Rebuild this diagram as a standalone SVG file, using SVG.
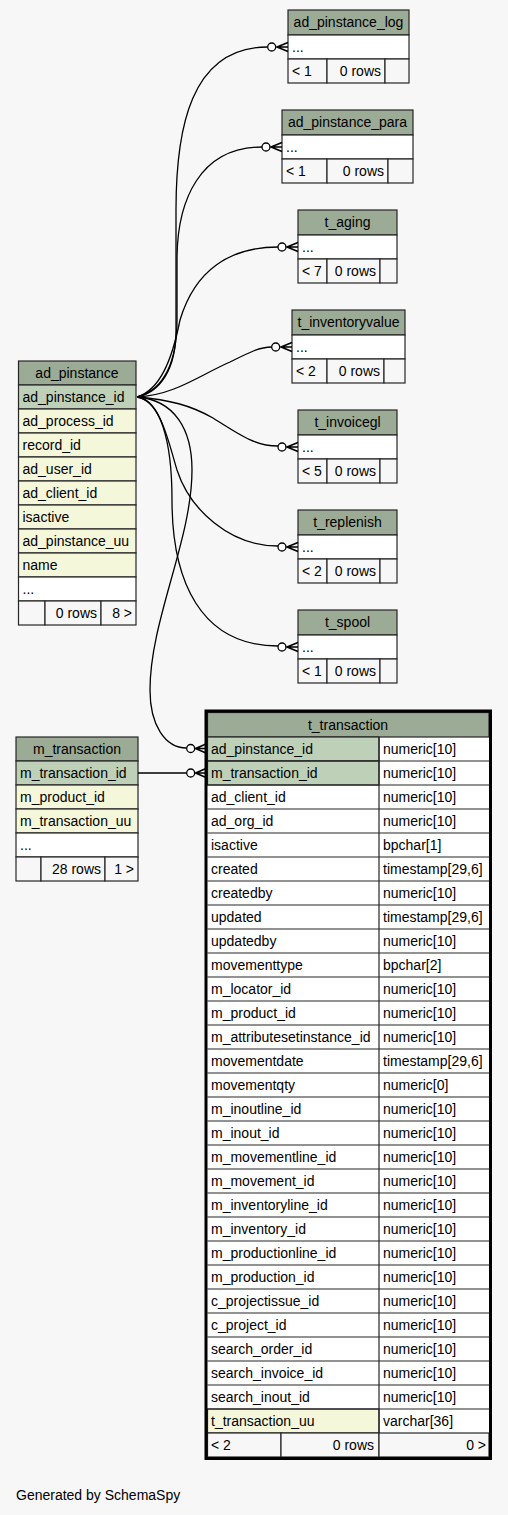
<svg xmlns="http://www.w3.org/2000/svg" width="508" height="1515" viewBox="0 0 508 1515">
<style>
text{font-family:"Liberation Sans",Arial,Helvetica,sans-serif;font-size:14px;fill:#000}
.c{text-anchor:middle}.r{text-anchor:end}
rect{stroke:#262626;stroke-width:1.2}
.h{fill:#9bab96}.k{fill:#bed1b8}.y{fill:#f4f7da}.w{fill:#fff}.f{fill:#f7f7f7}
.ln{stroke:#262626;stroke-width:1.2;fill:none}
.e{stroke:#000;stroke-width:1.3;fill:none}
.o{fill:#fff;stroke:#000;stroke-width:1.3}
.cr{stroke:#000;stroke-width:1.6;fill:none}
.thick{fill:none;stroke:#000;stroke-width:3}
.nos{stroke:none}
</style>
<rect class="nos" x="0" y="0" width="508" height="1515" fill="#f7f7f7"/>

<g id="ad_pinstance_log">
<rect class="h" x="288" y="10" width="121" height="25"/>
<rect class="w" x="288" y="35" width="121" height="24"/>
<rect class="f" x="288" y="59" width="39" height="24"/>
<rect class="f" x="327" y="59" width="58" height="24"/>
<rect class="f" x="385" y="59" width="24" height="24"/>
<text class="c" x="348.5" y="27">ad_pinstance_log</text>
<text x="292" y="52">...</text>
<text x="292" y="76">&lt; 1</text>
<text class="r" x="381" y="76">0 rows</text>
</g>

<g id="ad_pinstance_para">
<rect class="h" x="282" y="110" width="131" height="25"/>
<rect class="w" x="282" y="135" width="131" height="24"/>
<rect class="f" x="282" y="159" width="45" height="24"/>
<rect class="f" x="327" y="159" width="61" height="24"/>
<rect class="f" x="388" y="159" width="25" height="24"/>
<text class="c" x="347.5" y="127">ad_pinstance_para</text>
<text x="286" y="152">...</text>
<text x="286" y="176">&lt; 1</text>
<text class="r" x="384" y="176">0 rows</text>
</g>

<g id="t_aging">
<rect class="h" x="298" y="210" width="99" height="25"/>
<rect class="w" x="298" y="235" width="99" height="24"/>
<rect class="f" x="298" y="259" width="29" height="24"/>
<rect class="f" x="327" y="259" width="53" height="24"/>
<rect class="f" x="380" y="259" width="17" height="24"/>
<text class="c" x="347.5" y="227">t_aging</text>
<text x="302" y="252">...</text>
<text x="302" y="276">&lt; 7</text>
<text class="r" x="376" y="276">0 rows</text>
</g>

<g id="t_inventoryvalue">
<rect class="h" x="292" y="310" width="113" height="25"/>
<rect class="w" x="292" y="335" width="113" height="24"/>
<rect class="f" x="292" y="359" width="35" height="24"/>
<rect class="f" x="327" y="359" width="57" height="24"/>
<rect class="f" x="384" y="359" width="21" height="24"/>
<text class="c" x="348.5" y="327">t_inventoryvalue</text>
<text x="296" y="352">...</text>
<text x="296" y="376">&lt; 2</text>
<text class="r" x="380" y="376">0 rows</text>
</g>

<g id="t_invoicegl">
<rect class="h" x="298" y="410" width="99" height="25"/>
<rect class="w" x="298" y="435" width="99" height="24"/>
<rect class="f" x="298" y="459" width="29" height="24"/>
<rect class="f" x="327" y="459" width="53" height="24"/>
<rect class="f" x="380" y="459" width="17" height="24"/>
<text class="c" x="347.5" y="427">t_invoicegl</text>
<text x="302" y="452">...</text>
<text x="302" y="476">&lt; 5</text>
<text class="r" x="376" y="476">0 rows</text>
</g>

<g id="t_replenish">
<rect class="h" x="298" y="510" width="99" height="25"/>
<rect class="w" x="298" y="535" width="99" height="24"/>
<rect class="f" x="298" y="559" width="29" height="24"/>
<rect class="f" x="327" y="559" width="53" height="24"/>
<rect class="f" x="380" y="559" width="17" height="24"/>
<text class="c" x="347.5" y="527">t_replenish</text>
<text x="302" y="552">...</text>
<text x="302" y="576">&lt; 2</text>
<text class="r" x="376" y="576">0 rows</text>
</g>

<g id="t_spool">
<rect class="h" x="298" y="610" width="99" height="25"/>
<rect class="w" x="298" y="635" width="99" height="24"/>
<rect class="f" x="298" y="659" width="29" height="24"/>
<rect class="f" x="327" y="659" width="53" height="24"/>
<rect class="f" x="380" y="659" width="17" height="24"/>
<text class="c" x="347.5" y="627">t_spool</text>
<text x="302" y="652">...</text>
<text x="302" y="676">&lt; 1</text>
<text class="r" x="376" y="676">0 rows</text>
</g>

<g id="ad_pinstance">
<rect class="h" x="18.5" y="361" width="117.5" height="24"/>
<rect class="k" x="18.5" y="385" width="117.5" height="24"/>
<rect class="y" x="18.5" y="409" width="117.5" height="24"/>
<rect class="y" x="18.5" y="433" width="117.5" height="24"/>
<rect class="y" x="18.5" y="457" width="117.5" height="24"/>
<rect class="y" x="18.5" y="481" width="117.5" height="24"/>
<rect class="y" x="18.5" y="505" width="117.5" height="24"/>
<rect class="y" x="18.5" y="529" width="117.5" height="24"/>
<rect class="y" x="18.5" y="553" width="117.5" height="24"/>
<rect class="w" x="18.5" y="577" width="117.5" height="24"/>
<rect class="f" x="18.5" y="601" width="26.5" height="24"/>
<rect class="f" x="45" y="601" width="56" height="24"/>
<rect class="f" x="101" y="601" width="35" height="24"/>
<text class="c" x="77" y="378">ad_pinstance</text>
<text x="22.5" y="402">ad_pinstance_id</text>
<text x="22.5" y="426">ad_process_id</text>
<text x="22.5" y="450">record_id</text>
<text x="22.5" y="474">ad_user_id</text>
<text x="22.5" y="498">ad_client_id</text>
<text x="22.5" y="522">isactive</text>
<text x="22.5" y="546">ad_pinstance_uu</text>
<text x="22.5" y="570">name</text>
<text x="22.5" y="594">...</text>
<text class="r" x="97" y="618">0 rows</text>
<text class="r" x="132" y="618">8 &gt;</text>
</g>

<g id="m_transaction">
<rect class="h" x="16" y="737" width="122" height="24"/>
<rect class="k" x="16" y="761" width="122" height="24"/>
<rect class="y" x="16" y="785" width="122" height="24"/>
<rect class="y" x="16" y="809" width="122" height="24"/>
<rect class="w" x="16" y="833" width="122" height="24"/>
<rect class="f" x="16" y="857" width="25" height="24"/>
<rect class="f" x="41" y="857" width="64" height="24"/>
<rect class="f" x="105" y="857" width="33" height="24"/>
<text class="c" x="77" y="754">m_transaction</text>
<text x="20" y="778">m_transaction_id</text>
<text x="20" y="802">m_product_id</text>
<text x="20" y="826">m_transaction_uu</text>
<text x="20" y="850">...</text>
<text class="r" x="101" y="874">28 rows</text>
<text class="r" x="134" y="874">1 &gt;</text>
</g>

<g id="t_transaction">
<rect class="w nos" x="207.5" y="737" width="281.5" height="696"/>
<rect class="h" x="207.5" y="712.5" width="281.5" height="24.5"/>
<rect class="k" x="207.5" y="737" width="171.5" height="24"/>
<rect class="k" x="207.5" y="761" width="171.5" height="24"/>
<rect class="y" x="207.5" y="1409" width="171.5" height="24"/>
<rect class="f" x="207.5" y="1433" width="73.5" height="24"/>
<rect class="f" x="281" y="1433" width="98" height="24"/>
<rect class="f" x="379" y="1433" width="110" height="24"/>
<path class="ln" d="M207.5,761H489M207.5,785H489M207.5,809H489M207.5,833H489M207.5,857H489M207.5,881H489M207.5,905H489M207.5,929H489M207.5,953H489M207.5,977H489M207.5,1001H489M207.5,1025H489M207.5,1049H489M207.5,1073H489M207.5,1097H489M207.5,1121H489M207.5,1145H489M207.5,1169H489M207.5,1193H489M207.5,1217H489M207.5,1241H489M207.5,1265H489M207.5,1289H489M207.5,1313H489M207.5,1337H489M207.5,1361H489M207.5,1385H489M207.5,1409H489M379,737V1433"/>
<rect class="thick" x="206" y="711" width="284.5" height="747.5"/>
<text class="c" x="348" y="730">t_transaction</text>
<text x="211" y="754">ad_pinstance_id</text><text x="383" y="754">numeric[10]</text>
<text x="211" y="778">m_transaction_id</text><text x="383" y="778">numeric[10]</text>
<text x="211" y="802">ad_client_id</text><text x="383" y="802">numeric[10]</text>
<text x="211" y="826">ad_org_id</text><text x="383" y="826">numeric[10]</text>
<text x="211" y="850">isactive</text><text x="383" y="850">bpchar[1]</text>
<text x="211" y="874">created</text><text x="383" y="874">timestamp[29,6]</text>
<text x="211" y="898">createdby</text><text x="383" y="898">numeric[10]</text>
<text x="211" y="922">updated</text><text x="383" y="922">timestamp[29,6]</text>
<text x="211" y="946">updatedby</text><text x="383" y="946">numeric[10]</text>
<text x="211" y="970">movementtype</text><text x="383" y="970">bpchar[2]</text>
<text x="211" y="994">m_locator_id</text><text x="383" y="994">numeric[10]</text>
<text x="211" y="1018">m_product_id</text><text x="383" y="1018">numeric[10]</text>
<text x="211" y="1042">m_attributesetinstance_id</text><text x="383" y="1042">numeric[10]</text>
<text x="211" y="1066">movementdate</text><text x="383" y="1066">timestamp[29,6]</text>
<text x="211" y="1090">movementqty</text><text x="383" y="1090">numeric[0]</text>
<text x="211" y="1114">m_inoutline_id</text><text x="383" y="1114">numeric[10]</text>
<text x="211" y="1138">m_inout_id</text><text x="383" y="1138">numeric[10]</text>
<text x="211" y="1162">m_movementline_id</text><text x="383" y="1162">numeric[10]</text>
<text x="211" y="1186">m_movement_id</text><text x="383" y="1186">numeric[10]</text>
<text x="211" y="1210">m_inventoryline_id</text><text x="383" y="1210">numeric[10]</text>
<text x="211" y="1234">m_inventory_id</text><text x="383" y="1234">numeric[10]</text>
<text x="211" y="1258">m_productionline_id</text><text x="383" y="1258">numeric[10]</text>
<text x="211" y="1282">m_production_id</text><text x="383" y="1282">numeric[10]</text>
<text x="211" y="1306">c_projectissue_id</text><text x="383" y="1306">numeric[10]</text>
<text x="211" y="1330">c_project_id</text><text x="383" y="1330">numeric[10]</text>
<text x="211" y="1354">search_order_id</text><text x="383" y="1354">numeric[10]</text>
<text x="211" y="1378">search_invoice_id</text><text x="383" y="1378">numeric[10]</text>
<text x="211" y="1402">search_inout_id</text><text x="383" y="1402">numeric[10]</text>
<text x="211" y="1426">t_transaction_uu</text><text x="383" y="1426">varchar[36]</text>
<text x="211" y="1450">&lt; 2</text>
<text class="r" x="374" y="1450">0 rows</text>
<text class="r" x="486" y="1450">0 &gt;</text>
</g>

<g id="connectors">
<path class="e" d="M137,397C160,392 176,370 176,330L176,210C176,130 190,47 267.7,47"/>
<path class="e" d="M137,397C165,390 177,360 177,320L177,260C177,200 200,147 262,147"/>
<path class="e" d="M137,397C160,390 172,360 180,320C195,270 230,247 278,247"/>
<path class="e" d="M137,397C175,395 200,375 230,362C250,352 260,347 271.7,347"/>
<path class="e" d="M137,397C170,400 190,405 213,418C240,435 255,446 278,446"/>
<path class="e" d="M137,397C160,400 168,440 177,470C190,510 230,546 278,546"/>
<path class="e" d="M137,397C160,400 172,440 172,500C172,580 200,646 278,646"/>
<path class="e" d="M137,397C175,400 192,430 192,470C192,540 150,620 150,690C150,725 165,748 186.7,748"/>
<path class="e" d="M138,773H186.7"/>
<circle class="o" cx="271.7" cy="47" r="4"/>
<path class="cr" d="M288,42.5L277,47L288,51.5M277,47H288"/>
<circle class="o" cx="266" cy="147" r="4"/>
<path class="cr" d="M282,142.5L271,147L282,151.5M271,147H282"/>
<circle class="o" cx="282" cy="247" r="4"/>
<path class="cr" d="M298,242.5L287,247L298,251.5M287,247H298"/>
<circle class="o" cx="275.7" cy="347" r="4"/>
<path class="cr" d="M292,342.5L281,347L292,351.5M281,347H292"/>
<circle class="o" cx="282" cy="447" r="4"/>
<path class="cr" d="M298,442.5L287,447L298,451.5M287,447H298"/>
<circle class="o" cx="282" cy="547" r="4"/>
<path class="cr" d="M298,542.5L287,547L298,551.5M287,547H298"/>
<circle class="o" cx="282" cy="647" r="4"/>
<path class="cr" d="M298,642.5L287,647L298,651.5M287,647H298"/>
<circle class="o" cx="190.7" cy="748.5" r="4"/>
<path class="cr" d="M206,744L195.5,748.5L206,753M195.5,748.5H206"/>
<circle class="o" cx="190.7" cy="773" r="4"/>
<path class="cr" d="M206,768.5L195.5,773L206,777.5M195.5,773H206"/>
</g>

<text x="16" y="1500">Generated by SchemaSpy</text>
</svg>
